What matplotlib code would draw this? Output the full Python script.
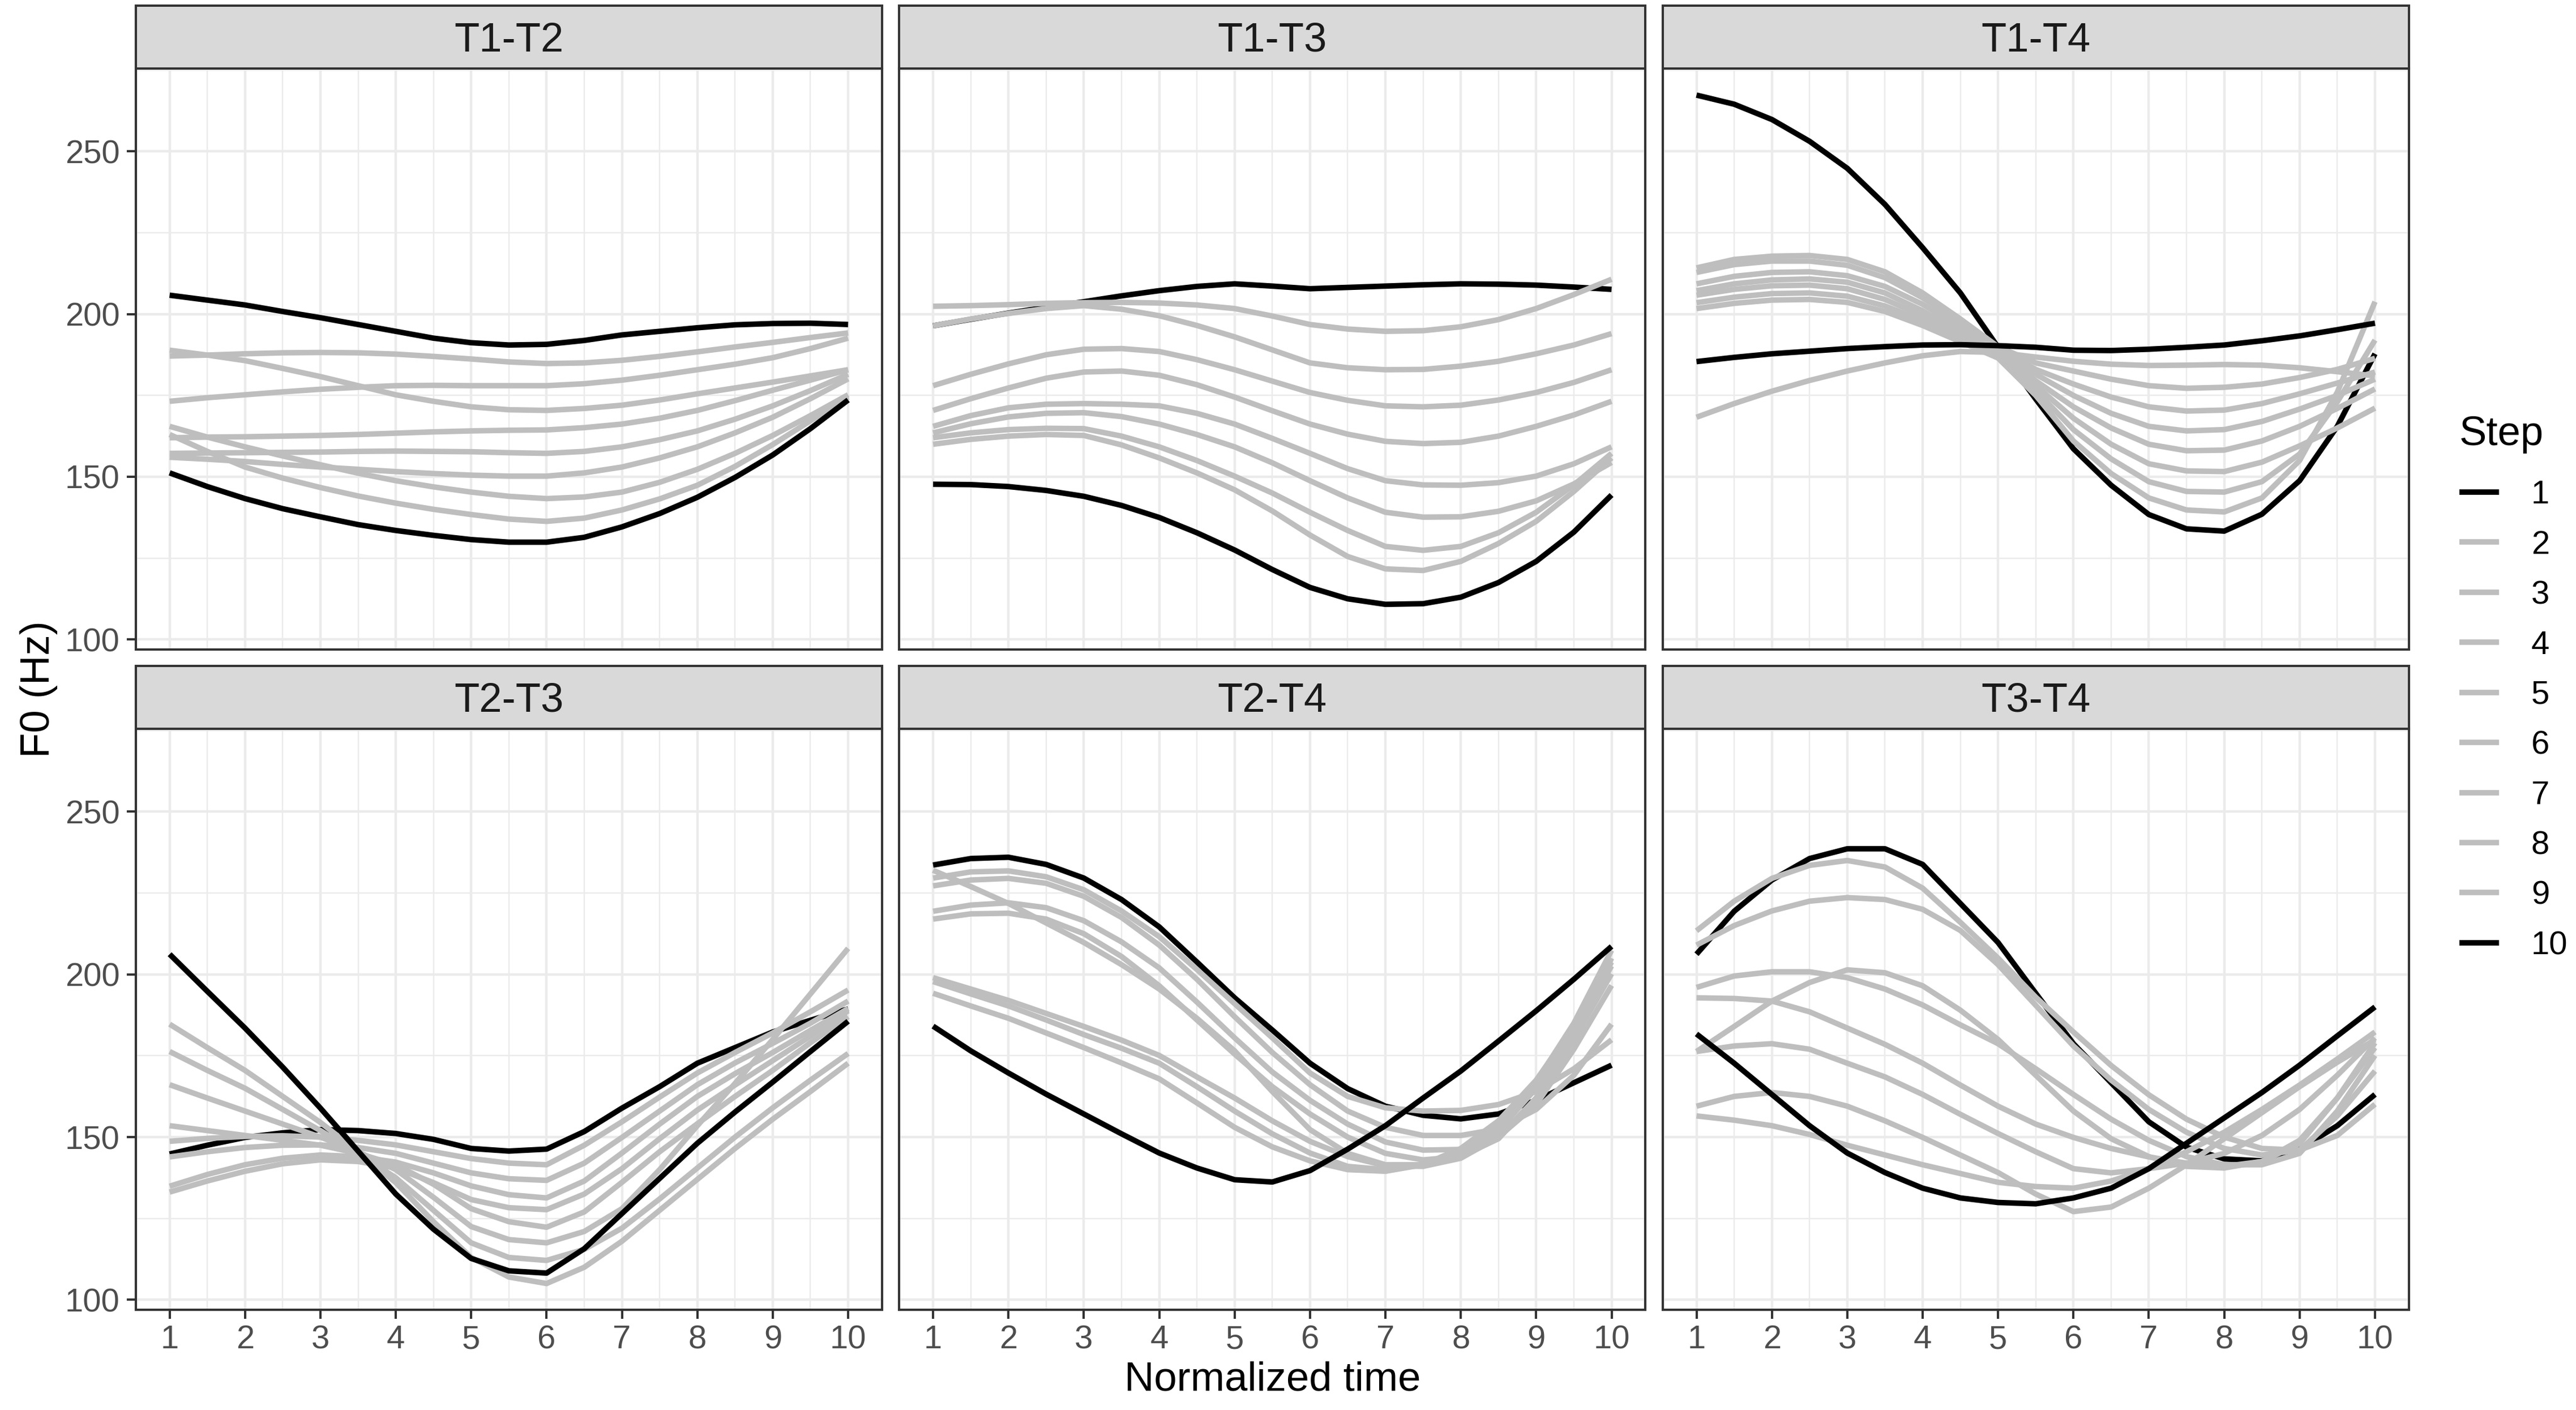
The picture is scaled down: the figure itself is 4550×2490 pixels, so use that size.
import matplotlib
matplotlib.use("Agg")
import matplotlib.pyplot as plt
from matplotlib.lines import Line2D
from matplotlib.ticker import MultipleLocator, FixedLocator

plt.rcParams['font.family'] = ['Liberation Sans', 'DejaVu Sans']

# ---------------- data ----------------
time = [1, 1.5, 2, 2.5, 3, 3.5, 4, 4.5, 5, 5.5, 6, 6.5, 7, 7.5, 8, 8.5, 9, 9.5, 10]
steps = [1, 2, 3, 4, 5, 6, 7, 8, 9, 10]
step_colors = ["#000000", "#BEBEBE", "#BEBEBE", "#BEBEBE", "#BEBEBE",
               "#BEBEBE", "#BEBEBE", "#BEBEBE", "#BEBEBE", "#000000"]
panel_names = ["T1-T2", "T1-T3", "T1-T4", "T2-T3", "T2-T4", "T3-T4"]
x_ticks = [1, 2, 3, 4, 5, 6, 7, 8, 9, 10]
y_ticks = [100, 150, 200, 250]

t1_t2 = [
    [205.8,204.3,202.8,200.8,198.9,196.8,194.7,192.6,191.2,190.5,190.7,191.9,193.6,194.7,195.8,196.7,197.1,197.2,196.8],
    [187.1,187.4,187.8,188.1,188.2,188.1,187.7,187.0,186.2,185.3,184.8,185.0,185.8,187.0,188.4,189.9,191.3,192.8,194.2],
    [188.9,187.4,185.7,183.3,180.8,178.0,175.2,173.2,171.5,170.6,170.4,171.0,172.0,173.6,175.5,177.3,179.1,181.0,182.9],
    [173.2,174.3,175.2,176.1,176.9,177.5,178.0,178.1,178.0,178.0,178.0,178.6,179.7,181.2,182.9,184.6,186.6,189.4,192.6],
    [162.0,162.2,162.3,162.5,162.7,163.0,163.4,163.8,164.1,164.3,164.4,165.1,166.2,168.0,170.4,173.4,176.6,179.7,182.9],
    [157.2,157.3,157.4,157.5,157.6,157.8,157.9,157.8,157.7,157.4,157.2,157.8,159.2,161.4,164.1,167.7,171.8,176.5,181.5],
    [156.0,155.4,154.7,153.8,153.0,152.3,151.6,151.0,150.5,150.2,150.2,151.2,153.0,155.8,159.2,163.5,168.3,174.0,180.1],
    [165.5,162.2,159.2,156.4,153.7,151.1,148.8,146.9,145.3,144.0,143.3,143.8,145.3,148.3,152.3,157.2,162.7,168.8,175.2],
    [163.0,157.8,153.0,149.6,146.7,144.1,141.9,140.0,138.4,137.0,136.3,137.3,139.8,143.2,147.4,153.2,159.9,167.2,174.5],
    [151.2,147.0,143.3,140.2,137.7,135.3,133.5,132.0,130.7,129.9,129.9,131.4,134.6,138.7,143.7,149.8,156.7,164.8,173.6],
]

t1_t3 = [
    [196.4,198.4,200.3,202.1,203.8,205.6,207.2,208.5,209.3,208.6,207.8,208.2,208.6,209.0,209.3,209.2,208.9,208.3,207.6],
    [202.4,202.6,202.9,203.3,203.5,203.6,203.4,202.8,201.7,199.4,196.8,195.4,194.7,194.9,196.1,198.3,201.7,206.0,210.7],
    [196.4,198.5,200.2,201.7,202.6,201.5,199.5,196.5,193.0,189.0,185.0,183.5,182.9,183.0,184.0,185.5,187.8,190.5,194.0],
    [178.0,181.5,184.7,187.5,189.2,189.4,188.5,186.0,182.9,179.4,175.9,173.5,171.8,171.5,172.0,173.6,175.9,179.0,182.9],
    [170.4,174.0,177.3,180.3,182.2,182.5,181.2,178.3,174.5,170.3,166.2,163.1,160.9,160.2,160.6,162.5,165.5,169.0,173.2],
    [165.5,168.8,171.2,172.3,172.5,172.3,171.8,169.5,166.2,161.8,157.2,152.5,148.8,147.5,147.4,148.2,150.2,154.0,159.2],
    [163.5,166.3,168.4,169.5,169.7,168.5,166.2,163.0,159.2,154.3,148.8,143.5,139.1,137.6,137.7,139.4,142.6,147.8,154.4],
    [162.0,163.5,164.5,164.9,164.8,162.5,159.2,155.0,150.2,145.0,139.1,133.5,128.6,127.4,128.6,132.8,139.1,147.5,157.2],
    [160.0,161.5,162.5,163.0,162.7,159.8,155.8,151.2,146.0,139.5,132.1,125.5,121.7,121.2,124.0,129.5,136.3,145.5,155.8],
    [147.7,147.6,147.0,145.8,144.0,141.2,137.5,132.8,127.5,121.5,116.0,112.5,110.8,111.0,113.0,117.5,124.0,133.0,144.4],
]

t1_t4 = [
    [267.3,264.5,259.8,253.1,244.8,233.7,220.4,206.5,189.8,173.9,158.6,147.4,138.4,134.0,133.3,138.5,148.8,165.5,187.8],
    [168.3,172.5,176.3,179.6,182.5,185.0,187.2,188.5,188.2,186.8,185.5,184.6,184.2,184.3,184.5,184.3,183.5,182.3,181.0],
    [214.2,216.8,217.8,218.0,216.8,213.0,206.5,198.5,190.0,185.0,182.5,180.0,178.0,177.2,177.5,178.5,180.5,183.0,186.4],
    [212.8,215.2,216.3,216.3,215.0,211.2,205.0,197.5,189.5,183.0,178.5,174.5,171.5,170.2,170.5,172.5,175.5,178.8,182.2],
    [209.3,211.6,212.8,213.0,211.8,208.5,203.0,196.0,189.0,181.5,175.0,169.5,165.5,164.1,164.5,167.0,170.8,175.0,180.0],
    [207.2,209.3,210.5,210.8,209.8,206.5,201.0,194.5,188.0,179.5,171.5,165.0,160.0,158.0,158.2,161.0,165.5,171.0,177.0],
    [205.8,207.6,208.7,208.9,207.8,204.5,199.5,193.5,187.5,178.0,168.0,160.0,154.0,151.8,151.6,154.5,159.5,165.0,171.1],
    [203.5,205.2,206.3,206.5,205.5,202.5,198.0,192.5,187.0,176.5,164.5,155.5,148.5,145.5,145.3,148.5,157.0,173.0,192.0],
    [201.7,203.3,204.3,204.5,203.6,200.8,196.5,191.5,186.5,175.0,161.0,151.0,143.5,139.8,139.2,143.5,155.0,176.0,203.8],
    [185.4,186.7,187.8,188.6,189.4,190.0,190.5,190.6,190.3,189.8,188.9,188.8,189.2,189.8,190.5,191.8,193.3,195.2,197.2],
]

t2_t3 = [
    [144.8,147.5,149.9,151.3,152.3,152.0,151.1,149.3,146.5,145.7,146.3,151.7,158.9,165.5,172.7,177.5,182.3,185.9,189.4],
    [148.7,149.6,150.2,150.4,150.0,149.0,147.6,145.5,143.4,142.0,141.5,147.5,154.7,162.3,169.7,176.0,182.0,188.5,195.2],
    [143.9,145.5,146.8,147.5,147.6,146.8,145.0,142.0,139.0,137.2,136.7,142.0,149.9,158.0,166.1,172.8,178.8,185.0,191.8],
    [134.9,138.5,141.5,143.5,144.5,144.0,142.3,139.0,135.0,132.3,131.3,136.5,145.1,154.0,162.5,169.5,176.0,182.8,189.5],
    [133.1,136.5,139.5,141.8,143.0,142.5,140.5,136.0,130.8,128.3,127.7,132.5,140.3,149.5,158.3,166.0,173.5,181.0,188.8],
    [153.5,152.0,150.5,149.0,147.5,145.0,141.5,135.5,128.0,124.0,122.3,127.0,136.1,145.5,154.1,162.5,170.5,179.0,187.0],
    [166.1,162.0,158.0,154.0,150.0,145.5,140.0,131.5,122.5,118.5,117.5,121.0,128.0,140.0,153.5,166.5,180.0,194.0,208.0],
    [176.3,170.5,165.0,158.5,152.0,145.0,137.5,127.5,117.5,113.0,112.1,115.5,122.0,131.0,140.5,150.0,159.0,167.5,175.7],
    [184.7,177.5,170.5,162.5,154.5,145.5,136.0,124.0,113.0,107.0,105.0,110.0,118.0,127.5,137.0,146.5,155.5,164.0,172.7],
    [206.2,194.8,183.5,171.5,158.9,145.7,132.5,121.7,112.7,108.9,108.2,115.7,126.5,137.3,148.1,157.7,166.9,176.3,185.6],
]

t2_t4 = [
    [233.6,235.6,236.0,233.8,229.6,223.0,214.6,203.8,192.8,182.9,172.7,164.9,159.5,156.7,155.6,157.1,161.3,166.7,172.1],
    [229.6,231.5,231.8,230.0,226.0,219.5,211.6,201.5,191.0,180.5,169.7,162.5,159.0,158.0,158.2,160.0,164.0,171.0,179.9],
    [227.2,229.0,229.5,228.0,224.0,217.5,209.0,198.5,187.0,176.0,166.1,158.0,153.0,150.5,150.5,152.5,158.5,169.0,184.7],
    [219.4,221.3,222.0,220.5,216.5,210.0,202.0,191.5,180.5,170.0,161.3,154.0,148.5,146.0,146.2,150.0,160.0,177.0,196.6],
    [217.0,218.6,218.8,217.0,212.5,205.5,196.5,186.0,175.5,165.5,157.1,150.0,145.0,143.0,144.0,149.5,162.0,180.0,200.2],
    [232.0,227.0,221.8,215.8,209.8,203.0,195.5,186.5,176.5,164.0,152.3,145.0,141.5,141.5,144.5,152.0,165.0,182.5,202.6],
    [199.0,195.5,192.0,188.0,184.0,179.8,175.1,168.5,162.0,155.0,148.7,144.0,141.2,141.0,143.5,150.0,162.0,180.5,205.0],
    [197.8,194.0,190.3,186.0,181.5,177.3,172.7,165.5,158.0,151.0,145.1,141.0,140.0,141.5,146.0,154.0,167.0,185.0,207.4],
    [194.2,190.3,186.5,182.0,177.5,172.8,167.9,160.5,153.0,147.0,142.7,140.0,139.5,141.5,146.5,155.0,167.5,184.0,203.8],
    [184.1,176.5,169.7,163.2,157.1,151.0,145.1,140.5,136.9,136.2,139.7,146.3,153.5,162.0,170.3,179.5,188.8,198.5,208.6],
]

t3_t4 = [
    [206.2,219.4,229.0,235.6,238.6,238.6,233.8,221.8,209.8,194.2,178.7,166.7,154.7,146.9,143.3,142.7,146.3,153.5,163.1],
    [213.4,222.5,229.5,233.5,235.0,233.0,226.5,216.0,205.0,193.0,182.3,172.0,163.0,155.5,150.0,146.5,146.0,150.5,160.1],
    [209.0,215.0,219.5,222.5,223.6,223.0,220.0,213.5,203.0,190.5,178.0,167.5,158.5,151.5,146.5,144.5,146.0,156.5,170.3],
    [196.0,199.5,200.8,200.8,199.0,195.5,190.6,184.5,178.7,171.0,163.1,155.5,149.0,144.0,141.5,141.5,145.0,158.0,175.1],
    [176.3,184.0,191.8,197.5,201.4,200.5,196.5,189.0,180.0,169.0,158.0,149.5,144.0,141.0,140.5,142.5,149.0,162.0,177.5],
    [192.8,192.6,191.8,188.5,183.5,178.5,172.7,166.0,159.5,154.0,149.9,146.5,143.9,142.0,141.0,142.5,148.0,162.0,179.0],
    [176.3,178.0,178.7,177.0,172.7,168.5,163.1,157.0,151.1,145.5,140.3,139.0,140.3,142.0,145.0,150.5,158.5,169.0,180.5],
    [159.5,162.5,163.7,162.5,159.5,155.0,149.9,144.5,139.1,132.5,127.1,128.5,134.3,141.5,149.5,157.5,165.5,173.0,179.9],
    [156.5,155.2,153.5,150.8,147.5,144.5,141.5,138.8,136.1,134.8,134.3,136.5,140.3,145.5,151.5,158.5,166.0,174.0,182.3],
    [181.7,172.7,163.1,153.5,145.1,139.1,134.3,131.3,129.9,129.5,131.3,134.3,140.3,148.1,155.9,163.7,172.1,181.1,190.0],
]

panels = [t1_t2, t1_t3, t1_t4, t2_t3, t2_t4, t3_t4]

# ---------------- layout ----------------
W, H = 4550, 2490
DPI = 290
REF_W, REF_H = 1568.0, 858.0


def fx(px):
    return px / REF_W


def fy(py):
    return 1.0 - py / REF_H


fig = plt.figure(figsize=(W / DPI, H / DPI), dpi=DPI)
fig.patch.set_facecolor("white")

col_left = [82.6, 547.3, 1012.0]
panel_w = 454.3
row_top = [41.8, 443.6]
panel_h = 353.5
strip_h = 38.5

LW = 2.4

# y range from data with 5% expansion (ggplot default)
all_vals = [v for p in panels for s in p for v in s]
vmin, vmax = min(all_vals), max(all_vals)
rng = vmax - vmin
ylo, yhi = vmin - 0.05 * rng, vmax + 0.05 * rng
xr = max(time) - min(time)
xlo, xhi = min(time) - 0.05 * xr, max(time) + 0.05 * xr

border_col = "#333333"
grid_col = "#EBEBEB"
tick_lab_col = "#4D4D4D"

for idx, (name, data) in enumerate(zip(panel_names, panels)):
    r, c = divmod(idx, 3)
    left = col_left[c]
    top = row_top[r]
    ax = fig.add_axes([fx(left), fy(top + panel_h), panel_w / REF_W, panel_h / REF_H])
    ax.set_facecolor("white")
    ax.set_xlim(xlo, xhi)
    ax.set_ylim(ylo, yhi)
    ax.xaxis.set_major_locator(FixedLocator(x_ticks))
    ax.xaxis.set_minor_locator(MultipleLocator(0.5))
    ax.yaxis.set_major_locator(FixedLocator(y_ticks))
    ax.yaxis.set_minor_locator(MultipleLocator(25))
    ax.grid(which="major", color=grid_col, lw=1.1)
    ax.grid(which="minor", color=grid_col, lw=0.6)
    ax.set_axisbelow(True)
    for sp in ax.spines.values():
        sp.set_color(border_col)
        sp.set_linewidth(1.0)
    ax.tick_params(which="minor", length=0)
    ax.tick_params(which="major", length=4, width=1.0, color=border_col,
                   labelsize=14.4, labelcolor=tick_lab_col)
    ax.tick_params(axis="y", pad=3.0)
    ax.tick_params(axis="x", pad=2.5)
    if c != 0:
        ax.tick_params(axis="y", length=0, labelleft=False)
    else:
        ax.set_yticklabels([str(v) for v in y_ticks])
    if r != 1:
        ax.tick_params(axis="x", length=0, labelbottom=False)
    else:
        ax.set_xticklabels([str(v) for v in x_ticks])

    for s_vals, col in zip(data, step_colors):
        ax.plot(time, s_vals, color=col, lw=LW, solid_capstyle="butt",
                solid_joinstyle="round", zorder=3)

    # strip
    sax = fig.add_axes([fx(left), fy(top), panel_w / REF_W, strip_h / REF_H])
    sax.set_facecolor("#D9D9D9")
    sax.set_xticks([])
    sax.set_yticks([])
    for sp in sax.spines.values():
        sp.set_color(border_col)
        sp.set_linewidth(1.0)
    sax.text(0.5, 0.275, name, ha="center", va="baseline", fontsize=18,
             color="#1A1A1A", transform=sax.transAxes)

# axis titles
fig.text(fx(23.5), fy(419.5), "F0 (Hz)", rotation=90, ha="center", va="center",
         fontsize=18, color="black")
fig.text(fx(774.5), fy(839.7), "Normalized time", ha="center", va="center",
         fontsize=18, color="black")

# legend
handles = [Line2D([0], [0], color=col, lw=LW, solid_capstyle="butt") for col in step_colors]
labels = [str(s) for s in steps]
leg = fig.legend(handles, labels, title="Step", loc="upper left",
                 bbox_to_anchor=(fx(1497), fy(253)), frameon=False,
                 fontsize=14.4, title_fontsize=18, handlelength=1.2,
                 handletextpad=0.99, labelspacing=0.594, borderpad=0,
                 borderaxespad=0, alignment="left")
try:
    leg._legend_box.sep = 11.4
except Exception:
    pass

fig.savefig("out.png", dpi=DPI, facecolor="white")
